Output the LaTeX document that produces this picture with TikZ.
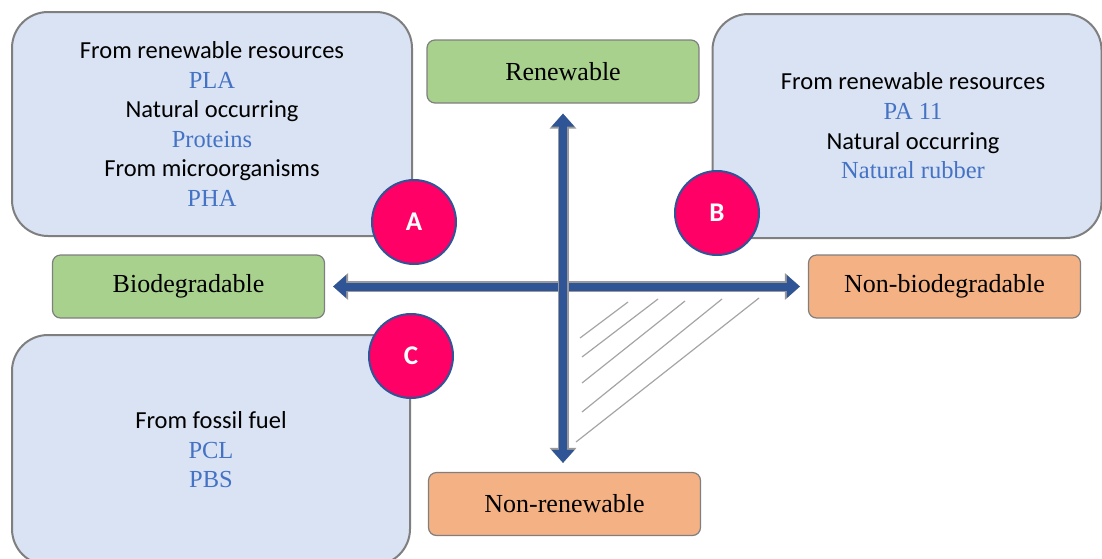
\documentclass[tikz,border=0pt]{standalone}
\usepackage{fontspec}
\setmainfont{Liberation Serif}
\newfontfamily\calibri{Carlito}
\usetikzlibrary{arrows.meta}
\definecolor{boxblue}{HTML}{DAE3F3}
\definecolor{edgegray}{HTML}{7F7F7F}
\definecolor{labelgreen}{HTML}{A9D18E}
\definecolor{labelorange}{HTML}{F4B183}
\definecolor{textblue}{HTML}{4472C4}
\definecolor{arrowblue}{HTML}{2F5597}
\definecolor{dotred}{HTML}{FF0066}
\newcommand{\srcline}[1]{{\calibri #1}}
\newcommand{\polyline}[1]{{\color{textblue}#1}}

\begin{document}
\begin{tikzpicture}[x=1pt, y=-1pt,
	groupbox/.style={draw=edgegray, line width=2pt, fill=boxblue, rounded corners=36pt, align=center, font=\fontsize{24.5}{29.6}\selectfont},
	axislabel/.style={draw=edgegray, line width=1.2pt, rounded corners=8pt, minimum width=272pt, minimum height=63pt, font=\fontsize{26}{30}\selectfont},
	letterdot/.style={circle, draw=arrowblue, line width=2pt, fill=dotred, minimum size=84pt, text=white, font=\calibri\bfseries\fontsize{27}{30}\selectfont},
	axis/.style={arrowblue, line width=8pt, {Triangle[width=22pt,length=13pt]}-{Triangle[width=22pt,length=13pt]},
		preaction={draw=edgegray!80, line width=11pt, {Triangle[width=26pt,length=15pt]}-{Triangle[width=26pt,length=15pt]}}},
	hatch/.style={draw=edgegray!70, line width=1.2pt}]
	\useasboundingbox (0,0) rectangle (1102,558);

	\node[groupbox, minimum width=400pt, minimum height=224pt] (boxA) at (212,124) {\srcline{From renewable resources}\\ \polyline{PLA}\\ \srcline{Natural occurring}\\ \polyline{Proteins}\\ \srcline{From microorganisms}\\ \polyline{PHA}};
	\node[groupbox, minimum width=389pt, minimum height=224pt] (boxB) at (907,126) {\hspace*{12pt}\srcline{From renewable resources}\\ \hspace*{12pt}\polyline{PA 11}\\ \hspace*{12pt}\srcline{Natural occurring}\\ \hspace*{12pt}\polyline{Natural rubber}};
	\node[groupbox, minimum width=398pt, minimum height=230pt] (boxC) at (211,450) {\srcline{From fossil fuel}\\ \polyline{PCL}\\ \polyline{PBS}};

	\node[axislabel, fill=labelgreen] (renew) at (563,71.5) {Renewable};
	\node[axislabel, fill=labelgreen] (bio) at (188.5,286.5) {Biodegradable};
	\node[axislabel, fill=labelorange] (nonbio) at (944.5,286.5) {Non-biodegradable};
	\node[axislabel, fill=labelorange] (nonrenew) at (564.5,504) {Non-renewable};

	% hatched quadrant
	\foreach \xa/\ya/\xb/\yb in {580/338/628/302, 582/357/658/299, 582/383/685/301, 582/412/722/299, 576/442/759/298}
		\draw[hatch] (\xa,\ya) -- (\xb,\yb);

	\draw[axis, shorten <=8pt, shorten >=8pt] (bio.east) -- (nonbio.west);
	\draw[axis, shorten <=10pt, shorten >=9pt] (renew.south) -- (renew.south |- nonrenew.north);

	\node[letterdot] (dotA) at (414,222) {A};
	\node[letterdot] (dotB) at (717,213) {B};
	\node[letterdot] (dotC) at (411,356) {C};
\end{tikzpicture}
\end{document}
